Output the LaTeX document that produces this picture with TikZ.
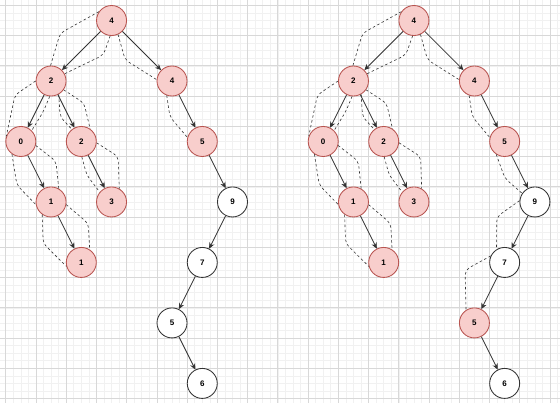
\documentclass[tikz,border=0pt]{standalone}
\usepackage{fontspec}
\setmainfont{Liberation Sans}
\usetikzlibrary{arrows.meta}

\definecolor{pinkfill}{HTML}{F8CECC}
\definecolor{pinkline}{HTML}{B85450}
\definecolor{ink}{HTML}{333333}
\definecolor{minorgrid}{HTML}{F1F1F1}
\definecolor{majorgrid}{HTML}{D8D8D8}

\tikzset{
  key/.style={circle, minimum size=30pt, inner sep=0pt, draw=ink, fill=white,
    line width=0.85pt, font=\bfseries\fontsize{8}{9}\selectfont},
  hit/.style={key, draw=pinkline, fill=pinkfill},
  link/.style={draw=ink, line width=0.8pt, -{Stealth[length=6pt,width=5.5pt]}},
  walk/.style={draw=ink, line width=0.6pt, dash pattern=on 2.5pt off 2.5pt,
    rounded corners=5pt},
}

% One binary search tree; #1 = name prefix, #2 = style of the lower 5
\newcommand\searchtree[2]{%
  \node[hit] (#1r) at (3.5,0.5)  {4};
  \node[hit] (#1a) at (1.5,2.5)  {2};
  \node[hit] (#1b) at (5.5,2.5)  {4};
  \node[hit] (#1c) at (0.5,4.5)  {0};
  \node[hit] (#1d) at (2.5,4.5)  {2};
  \node[hit] (#1e) at (6.5,4.5)  {5};
  \node[hit] (#1f) at (1.5,6.5)  {1};
  \node[hit] (#1g) at (3.5,6.5)  {3};
  \node[key] (#1h) at (7.5,6.5)  {9};
  \node[hit] (#1i) at (2.5,8.5)  {1};
  \node[key] (#1j) at (6.5,8.5)  {7};
  \node[#2]  (#1k) at (5.5,10.5) {5};
  \node[key] (#1l) at (6.5,12.5) {6};
  % traversal outline
  \draw[walk] (#1r.145) -- (1.80,0.92) -- (#1a.92);
  \draw[walk] (#1r.265) -- (3.23,1.64) -- (#1a.28);
  \draw[walk] (#1r.-65) -- (3.95,1.80) -- (#1b.175);
  \draw[walk] (#1a.180) -- (0.31,2.96) -- (#1c.160);
  \draw[walk] (#1a.265) -- (1.25,3.50) -- (#1c.45);
  \draw[walk] (#1a.-60) -- (1.80,3.68) -- (#1d.128);
  \draw[walk] (#1a.-35) -- (2.59,3.23) -- (#1d.55);
  \draw[walk] (#1c.235) -- (0.37,5.94) -- (#1f.190);
  \draw[walk] (#1c.-15) -- (1.66,5.15) -- (#1f.60);
  \draw[walk] (#1d.-88) -- (2.68,5.61) -- (#1g.140);
  \draw[walk] (#1d.-5)  -- (3.72,5.00) -- (#1g.60);
  \draw[walk] (#1f.235) -- (1.24,7.87) -- (#1i.195);
  \draw[walk] (#1f.-10) -- (2.73,7.21) -- (#1i.57);
  \draw[walk] (#1b.250) -- (5.43,3.68) -- (#1e.165);
  % tree edges
  \draw[link] (#1r) -- (#1a);
  \draw[link] (#1r) -- (#1b);
  \draw[link] (#1a) -- (#1c);
  \draw[link] (#1a) -- (#1d);
  \draw[link] (#1c) -- (#1f);
  \draw[link] (#1d) -- (#1g);
  \draw[link] (#1f) -- (#1i);
  \draw[link] (#1b) -- (#1e);
  \draw[link] (#1e) -- (#1h);
  \draw[link] (#1h) -- (#1j);
  \draw[link] (#1j) -- (#1k);
  \draw[link] (#1k) -- (#1l);
}

\begin{document}
\begin{tikzpicture}[x=30.24pt, y=-30.24pt]
  \useasboundingbox (-0.1885,-0.1786) rectangle (18.330,13.148);
  \fill[white] (-0.1885,-0.1786) rectangle (18.330,13.148);
  % background grid
  \foreach \i in {0,...,73}
    \draw[minorgrid, line width=0.6pt] (\i*0.25,-0.1786) -- (\i*0.25,13.148);
  \foreach \i in {0,...,52}
    \draw[minorgrid, line width=0.6pt] (-0.1885,\i*0.25) -- (18.330,\i*0.25);
  \foreach \i in {0,...,18}
    \draw[majorgrid, line width=0.8pt] (\i,-0.1786) -- (\i,13.148);
  \foreach \i in {0,...,13}
    \draw[majorgrid, line width=0.8pt] (-0.1885,\i) -- (18.330,\i);

  % left tree
  \searchtree{L}{key}

  % right tree, with the extra walk down to the lower 5
  \begin{scope}[xshift=302.4pt]
    \searchtree{R}{hit}
    \draw[walk] (Re.237) -- (6.51,5.72) -- (Rh.146);
    \draw[walk] (Rh.175) -- (6.24,6.99) -- (Rj.122);
    \draw[walk] (Rj.155) -- (5.19,8.75) -- (Rk.123);
  \end{scope}
\end{tikzpicture}
\end{document}
